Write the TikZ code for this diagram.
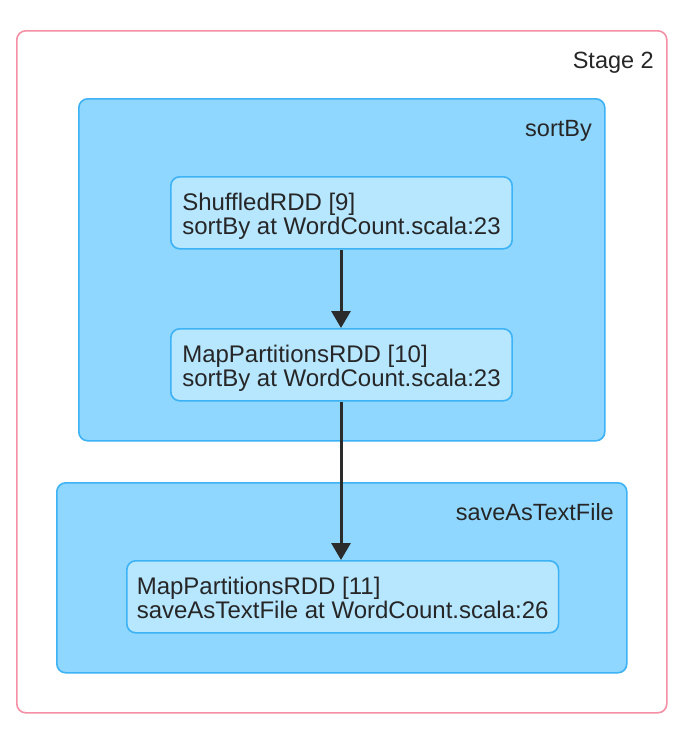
\documentclass[tikz,border=0pt]{standalone}
\usepackage{fontspec}
\setmainfont{Liberation Sans}
\usetikzlibrary{arrows.meta,positioning}
\definecolor{stagepink}{HTML}{F58FA5}
\definecolor{clusterblue}{HTML}{8FD7FF}
\definecolor{clusterline}{HTML}{3DB2F5}
\definecolor{rddblue}{HTML}{B7E6FF}
\definecolor{flowgray}{HTML}{2B2B2B}
\newcommand{\boxline}{1.6pt}
\newcommand{\boxround}{9pt}
\newcommand{\labelfont}{\fontsize{23.5}{24}\selectfont}
\newcommand{\rddfont}{\fontsize{24}{24}\selectfont}

\begin{document}
\begin{tikzpicture}[x=1pt,y=-1pt,
        stagebox/.style={draw=stagepink, line width=\boxline, rounded corners=\boxround, fill=white, anchor=north west, inner sep=0pt},
        clusterbox/.style={draw=clusterline, fill=clusterblue, line width=\boxline, rounded corners=\boxround, anchor=north west, inner sep=0pt},
        rddbox/.style={draw=clusterline, fill=rddblue, line width=\boxline, rounded corners=\boxround, anchor=north west,
            align=left, inner xsep=11.5pt, inner ysep=0pt, text height=44pt, text depth=0pt, minimum height=72pt, font=\rddfont, text=black!85},
        boxlabel/.style={anchor=base east, inner sep=0pt, font=\labelfont, text=black!85},
        flow/.style={-{Triangle[length=17pt,width=19pt]}, line width=3pt, draw=flowgray}]
    \useasboundingbox (0,0) rectangle (688,740);
    % stage
    \node[stagebox, minimum width=650pt, minimum height=682pt] (stage) at (16,30) {};
    \node[boxlabel] (stagelabel) at (654,68) {Stage 2};
    % clusters
    \node[clusterbox, minimum width=526pt, minimum height=342pt] (sortby) at (78,98) {};
    \node[boxlabel] (sortbylabel) at (592,136) {sortBy};
    \node[clusterbox, minimum width=570pt, minimum height=190pt] (savetext) at (56,482) {};
    \node[boxlabel] (savetextlabel) at (614,520) {saveAsTextFile};
    % rdds
    \node[rddbox] (rdd9) at (170,176) {ShuffledRDD [9]\\sortBy at WordCount.scala:23};
    \node[rddbox] (rdd10) at (170,328) {MapPartitionsRDD [10]\\sortBy at WordCount.scala:23};
    \node[rddbox, inner xsep=10pt] (rdd11) at (126,560) {MapPartitionsRDD [11]\\saveAsTextFile at WordCount.scala:26};
    % edges
    \draw[flow] (rdd9.south -| 341,0) -- (rdd10.north -| 341,0);
    \draw[flow] (rdd10.south -| 341,0) -- (rdd11.north -| 341,0);
\end{tikzpicture}
\end{document}
